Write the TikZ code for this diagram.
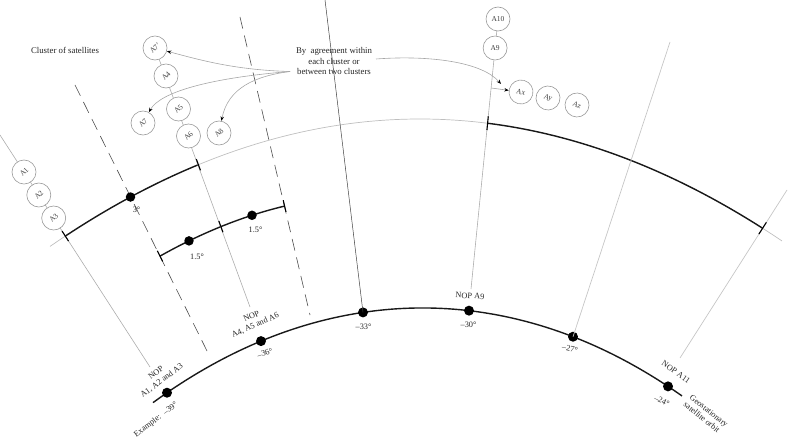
\documentclass[tikz,border=0pt]{standalone}
\usepackage{fontspec}
\setmainfont{Liberation Serif}
\usetikzlibrary{arrows.meta,calc}
\begin{document}
\begin{tikzpicture}[x=1pt,y=-1pt,
  declare function={
    orb(\x)=308-0.014*(\x-417)+0.00125*(\x-417)*(\x-417)+0.077*((\x-417)/100)*((\x-417)/100)*((\x-417)/100)*((\x-417)/100);
    outa(\x)=119+0.00093*(\x-420)*(\x-420);
    sma(\x)=255-0.558*(\x-162)+0.0013*(\x-162)*(\x-162);
  },
  sat/.style={circle, draw=gray!80, line width=0.6pt, fill=white, minimum size=24pt, inner sep=0pt,
              font=\fontsize{7.5}{8}\selectfont, text=black!75},
  ray/.style={draw=gray!65, line width=0.6pt},
  lightray/.style={draw=gray!45, line width=0.7pt},
  darkray/.style={draw=black!75, line width=0.5pt},
  dashray/.style={draw=black!70, line width=0.6pt, dash pattern=on 12pt off 7pt},
  orbarc/.style={line width=1.4pt, black!90},
  grayarc/.style={draw=gray!50, line width=0.7pt},
  tickmark/.style={line width=1.1pt, black},
  sdot/.style={circle, fill=black, inner sep=0pt, minimum size=10pt},
  lab/.style={font=\fontsize{8.3}{9.5}\selectfont, text=black!85, inner sep=1pt},
  txt/.style={font=\fontsize{8.8}{10.5}\selectfont, text=black!85, inner sep=1pt},
  agree/.style={draw=gray!70, line width=0.6pt, -{Stealth[length=4.5pt,width=3.5pt,color=black]}},
]
\useasboundingbox (0,0) rectangle (797,441);

% line end points
\coordinate (L1a) at (0,135);   \coordinate (L1b) at (150,367);
\coordinate (L2a) at (75,85);   \coordinate (L2b) at (210,357);
\coordinate (L3a) at (155,48);  \coordinate (L3b) at (250,307);
\coordinate (L4a) at (240,17);  \coordinate (L4b) at (310,315);
\coordinate (L5a) at (325,0);
\coordinate (L6a) at (498,19);  \coordinate (L6b) at (471,289);
\coordinate (L7a) at (670,42);
\coordinate (L8a) at (787,190); \coordinate (L8b) at (680,358);

% arcs
\draw[grayarc] plot[domain=50:782, samples=150] (\x,{outa(\x)});
\draw[orbarc] plot[domain=65.3:198.4, samples=50] (\x,{outa(\x)});
\draw[orbarc] plot[domain=487.6:762.6, samples=80] (\x,{outa(\x)});
\draw[orbarc] plot[domain=160:284.6, samples=50] (\x,{sma(\x)});
\draw[orbarc] plot[domain=153:682, samples=150] (\x,{orb(\x)});

% dots on the orbit
\node[sdot] (p39) at (167,{orb(167)}) {};
\node[sdot] (p36) at (261,{orb(261)}) {};
\node[sdot] (p33) at (363,{orb(363)}) {};
\node[sdot] (p30) at (469,{orb(469)}) {};
\node[sdot] (p27) at (573,{orb(573)}) {};
\node[sdot] (p24) at (668,{orb(668)}) {};

% radial lines
\draw[ray] (L1a) -- (L1b);
\draw[dashray] (L2a) -- (L2b);
\draw[ray] (L3a) -- (L3b);
\draw[dashray] (L4a) -- (L4b);
\draw[darkray] (L5a) -- (p33.center);
\draw[ray] (L6a) -- (L6b);
\draw[lightray] (L7a) -- (p27.center);
\draw[lightray] (L8a) -- (L8b);

% ticks
\coordinate (t1) at (65.3,{outa(65.3)});
\coordinate (t2) at (198.4,{outa(198.4)});
\coordinate (t3) at (487.6,{outa(487.6)});
\coordinate (t4) at (762.6,{outa(762.6)});
\coordinate (s1) at (160,{sma(160)});
\coordinate (s2) at (220.9,{sma(220.9)});
\coordinate (s3) at (284.6,{sma(284.6)});
\draw[tickmark] ($(t1)!6pt!(L1a)$) -- ($(t1)!-6pt!(L1a)$);
\draw[tickmark] ($(t2)!6pt!(L3a)$) -- ($(t2)!-6pt!(L3a)$);
\draw[tickmark] ($(t3)!7pt!(L6a)$) -- ($(t3)!-7pt!(L6a)$);
\draw[tickmark] ($(t4)!7pt!(L8a)$) -- ($(t4)!-7pt!(L8a)$);
\draw[tickmark] ($(s1)!6pt!(L2a)$) -- ($(s1)!-6pt!(L2a)$);
\draw[tickmark] ($(s2)!6pt!(L3a)$) -- ($(s2)!-6pt!(L3a)$);
\draw[tickmark] ($(s3)!6pt!(L4a)$) -- ($(s3)!-6pt!(L4a)$);

% dots on upper arcs
\node[sdot, minimum size=9.5pt] (d3) at (130.5,{outa(130.5)}) {};
\node[sdot, minimum size=9.5pt] (d15a) at (189,{sma(189)}) {};
\node[sdot, minimum size=9.5pt] (d15b) at (252,{sma(252)}) {};

% satellites
\node[sat, rotate=45] (A1) at (24,172) {A1};
\node[sat, rotate=45] (A2) at (38.8,195) {A2};
\node[sat, rotate=45] (A3) at (53.7,218) {A3};
\node[sat, rotate=45] (A7p) at (155,48) {A7'};
\node[sat, rotate=45] (A4) at (166,76) {A4};
\node[sat, rotate=45] (A5) at (178.5,109) {A5};
\node[sat, rotate=45] (A6) at (188.5,136) {A6};
\node[sat, rotate=45] (A7) at (143,123) {A7};
\node[sat, rotate=45] (A8) at (219,133) {A8};
\node[sat] (A10) at (498,19) {A10};
\node[sat] (A9) at (495.1,48) {A9};
\node[sat, rotate=-15] (Ax) at (521,92) {Ax};
\node[sat, rotate=-20] (Ay) at (548,98) {Ay};
\node[sat, rotate=-25] (Az) at (577,105) {Az};

% texts
\node[txt] (cl) at (65,50) {Cluster of satellites};
\node[txt, align=center] (agr) at (334,61) {By~ agreement within\\each cluster or\\between two clusters};
\coordinate (S) at (290,71.5);
\coordinate (S2) at (376,59);
\coordinate (q6) at (491.2,88);
\coordinate (e6) at (501,84);

\draw[agree] (S) .. controls (235,70) and (200,60) .. (A7p);
\draw[agree] (S) .. controls (210,78) and (160,92) .. (A7);
\draw[agree] (S) .. controls (255,76) and (228,88) .. (A8);
\draw[agree] (S2) .. controls (430,55) and (482,62) .. (e6);
\draw[draw=gray!70, line width=0.6pt, -{Stealth[length=4.5pt,width=3.5pt,color=black]}] (q6) -- (Ax);

\node[lab] at (136.5,210) {3°};
\node[lab] at (197,257) {1.5°};
\node[lab] at (255.5,230) {1.5°};

\node[lab, rotate=37, align=center] at (159,377) {NOP\\A1, A2 and A3};
\node[lab, rotate=37] at (156,420) {Example:~ –39°};
\node[lab, rotate=24, align=center] at (253.5,321) {NOP\\A4, A5 and A6};
\node[lab, rotate=18] at (265,353) {–36°};
\node[lab] at (363.5,327) {–33°};
\node[lab, rotate=-3] at (470,296) {NOP A9};
\node[lab] at (468.5,325) {–30°};
\node[lab, rotate=-12] at (570,348.5) {–27°};
\node[lab, rotate=-35] at (676,372) {NOP A11};
\node[lab, rotate=-25] at (662,401) {–24°};
\node[lab, rotate=-39, align=left] at (706,414.5) {Geostationary\\satellite orbit};
\end{tikzpicture}
\end{document}
